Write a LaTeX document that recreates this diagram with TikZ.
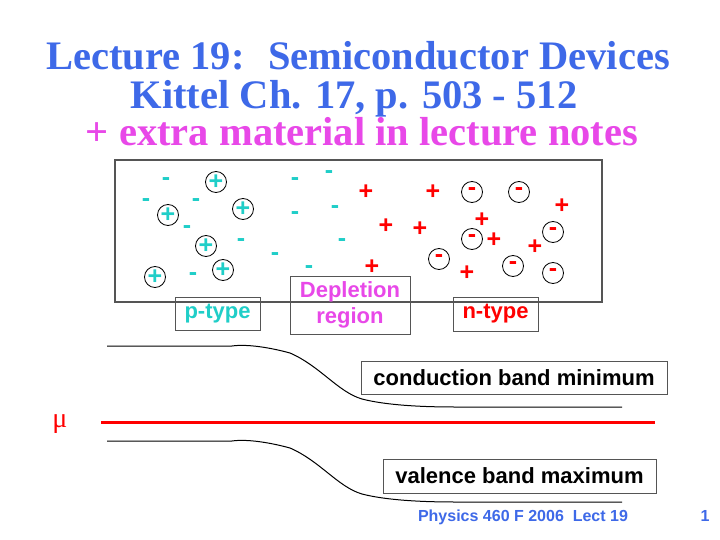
\documentclass[tikz,border=0pt]{standalone}
\usepackage{fontspec}
\setmainfont{Liberation Serif}
\setsansfont{Liberation Sans}
\usepackage{tikz}
\usetikzlibrary{positioning}
\usepackage{xcolor}
\definecolor{titleblue}{RGB}{62,105,232}
\definecolor{notemagenta}{RGB}{232,72,232}
\definecolor{pcyan}{RGB}{32,206,200}
\definecolor{framegray}{RGB}{85,85,85}

\begin{document}
\begin{tikzpicture}[
	x=1pt, y=-1pt,
	every node/.style={inner sep=0pt, font=\sffamily\bfseries\fontsize{22}{26}\selectfont},
	title line/.style={font=\rmfamily\bfseries\fontsize{40.5}{44}\selectfont, text=titleblue, anchor=base},
	label box/.style={draw=framegray, line width=1pt},
	charge/.style={font=\sffamily\bfseries\fontsize{25}{26}\selectfont},
	ion p/.style={charge, circle, draw=black, line width=0.8pt, minimum size=21pt, text=pcyan},
	ion n/.style={charge, circle, draw=black, line width=0.8pt, minimum size=21pt, text=red},
	free p/.style={charge, text=pcyan},
	free n/.style={charge, text=red},
	band edge/.style={black, line width=1pt},
	fermi level/.style={red, line width=3pt}
	]
	% =====================================================
	% PAGE
	% =====================================================
	\fill[white] (0,0) rectangle (720,540);
	\useasboundingbox (0,0) rectangle (720,540);

	% =====================================================
	% TITLE
	% =====================================================
	\node[title line] (title) at (358,70) {Lecture 19:~ Semiconductor Devices};
	\node[title line] (kittel) at (354,109) {Kittel Ch. 17, p. 503 - 512};
	\node[title line, text=notemagenta] (extra) at (362,146) {+ extra material in lecture notes};

	% =====================================================
	% JUNCTION BOX
	% =====================================================
	\draw[framegray, line width=1.5pt] (115,160) rectangle (602,302);

	% p side
	\foreach \x/\y [count=\i] in {216/182, 168/215, 243/209, 206/246, 223/270, 155/277}
		\node[ion p] (pion\i) at (\x,\y) {+};
	\foreach \x/\y [count=\i] in {166/182, 146/203, 196/203, 187/230, 241/243, 193/277,
		295/182, 329/175, 295/216, 335/210, 275/257, 342/243, 309/270}
		\node[free p] (pminus\i) at (\x,\y) {-};

	% n side
	\foreach \x/\y [count=\i] in {472/192, 519/192, 553/232, 472/239, 439/259, 513/266, 553/273}
		\node[ion n] (nion\i) at (\x,\y) {-};
	\foreach \x/\y [count=\i] in {366/192, 433/192, 562/206, 386/226, 420/229, 482/220,
		494/240, 535/247, 372/267, 467/273}
		\node[free n] (nplus\i) at (\x,\y) {+};

	% region labels
	\node[label box, minimum width=85pt, minimum height=33pt, text=pcyan] (ptype) at (217.5,313.5) {p-type};
	\node[label box, minimum width=120pt, minimum height=58pt, text=notemagenta, align=center] (depletion) at (350,305) {Depletion\\region};
	\node[label box, minimum width=85pt, minimum height=34pt, text=red] (ntype) at (495.5,314) {n-type};

	% =====================================================
	% BAND DIAGRAM
	% =====================================================
	\foreach \dy in {0,95}
		\draw[band edge] (107,346+\dy) -- (232,346+\dy)
			.. controls (246,344+\dy) and (268,347+\dy) .. (290,353+\dy)
			.. controls (320,366+\dy) and (338,392+\dy) .. (362,399+\dy)
			.. controls (385,405+\dy) and (420,407+\dy) .. (455,407+\dy) -- (622,407+\dy);

	\draw[fermi level] (101,422) -- (655,422);
	\node[font=\rmfamily\fontsize{28}{30}\selectfont, text=red] (mu) at (60,424) {μ};

	\node[label box, minimum width=306pt, minimum height=33pt] (cbm) at (514,377.5) {conduction band minimum};
	\node[label box, minimum width=273pt, minimum height=34pt] (vbm) at (519.5,476) {valence band maximum};

	% =====================================================
	% FOOTER
	% =====================================================
	\node[font=\sffamily\bfseries\fontsize{16}{18}\selectfont, text=titleblue, anchor=base] (footer) at (523,521) {Physics 460 F 2006~ Lect 19};
	\node[font=\sffamily\bfseries\fontsize{16}{18}\selectfont, text=titleblue, anchor=base] (pagenum) at (705,521) {1};

\end{tikzpicture}
\end{document}
